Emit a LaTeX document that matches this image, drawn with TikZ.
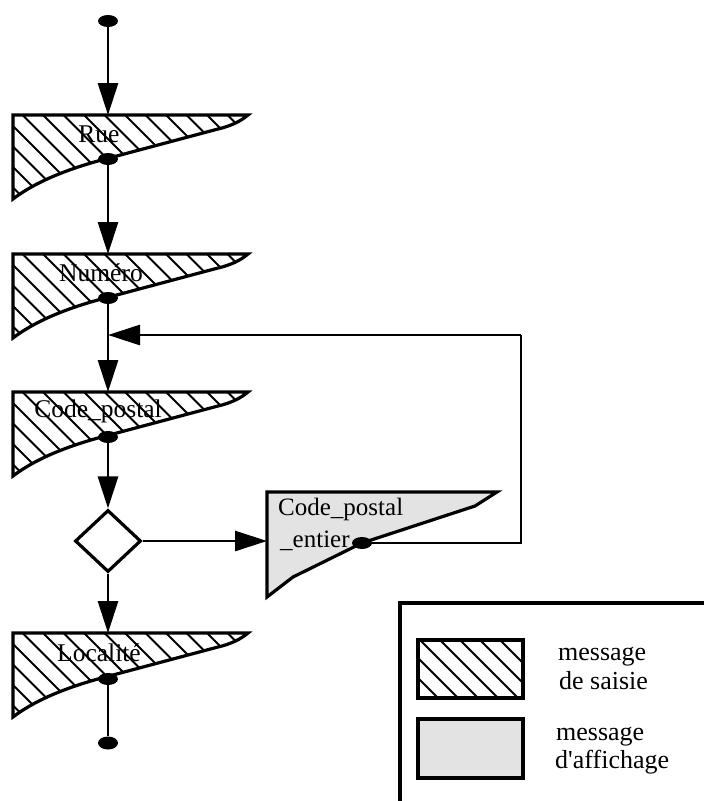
\documentclass[tikz,border=0pt]{standalone}
\usepackage{fontspec}
\setmainfont{Liberation Serif}[Ligatures=TeXOff]
\usetikzlibrary{arrows.meta,shapes.geometric}
\begin{document}
\begin{tikzpicture}[x=1pt,y=-1pt,
  conn/.style={line width=2.8pt},
  arr/.style={conn,-{Triangle[length=32pt,width=20pt]}},
  border/.style={line width=3.2pt,line join=miter},
  hatch/.style={line width=2.1pt},
  stipple/.style={fill=black!11},
  dot/.style={ellipse,fill=black,inner sep=0pt,minimum width=20pt,minimum height=12pt},
  lbl/.style={anchor=base,inner sep=0pt,font=\fontsize{25.5}{30}\selectfont},
  cpetxt/.style={anchor=base west,inner sep=0pt,font=\fontsize{25}{30}\selectfont},
  legtxt/.style={anchor=base west,inner sep=0pt,font=\fontsize{26}{30}\selectfont},
  saisie/.pic={
    \begin{scope}
      \clip (0,0) -- (235,0) .. controls (228,6) and (218,11) .. (205,14)
        -- (100,42) .. controls (60,52) and (25,65) .. (0,84) -- cycle;
      \foreach \c in {-93,-72.5,...,250}
        \draw[hatch] (\c-10,-10) -- (\c+100,100);
    \end{scope}
    \draw[border] (0,0) -- (235,0) .. controls (228,6) and (218,11) .. (205,14)
      -- (100,42) .. controls (60,52) and (25,65) .. (0,84) -- cycle;
  }
]
\useasboundingbox (0,0) rectangle (704,801);

% input messages
\pic at (13,115) {saisie};
\pic at (13,254) {saisie};
\pic at (13,392) {saisie};
\pic at (13,633) {saisie};

\node[lbl] (rue) at (99,142) {Rue};
\node[lbl] (numero) at (101,281) {Numéro};
\node[lbl] (cp) at (98,417) {Code\_postal};
\node[lbl] (localite) at (99,661) {Localité};

% entry points on the top edges
\coordinate (rue-in) at (108,115);
\coordinate (numero-in) at (108,254);
\coordinate (cp-in) at (108,392);
\coordinate (localite-in) at (108,633);

% exit dots
\node[dot] (start) at (108,21) {};
\node[dot] (rue-out) at (108,159) {};
\node[dot] (numero-out) at (108,298) {};
\node[dot] (cp-out) at (108,437) {};
\node[dot] (localite-out) at (108,679) {};
\node[dot,minimum height=13pt] (end) at (108,743) {};

% test
\node[diamond,draw,line width=3.2pt,minimum width=66pt,minimum height=62pt,inner sep=0pt] (test) at (108,541) {};

% display message
\fill[stipple] (267,492) -- (497,492) -- (475,506) -- (362,543) -- (293,577) -- (267,597) -- cycle;
\draw[border] (267,492) -- (497,492) -- (475,506) -- (362,543) -- (293,577) -- (267,597) -- cycle;
\coordinate (cpe-in) at (267,541);
\node[cpetxt] (cpe-a) at (278,515) {Code\_postal};
\node[cpetxt] (cpe-b) at (280,547) {\_entier};
\node[dot] (cpe-out) at (362,543) {};

% connectors
\draw[arr] (start) -- (rue-in);
\draw[arr] (rue-out) -- (numero-in);
\draw[arr] (numero-out) -- (cp-in);
\draw[arr] (cp-out) -- (test.north);
\draw[arr] (test.east) -- (cpe-in);
\draw[arr] (test.south) -- (localite-in);
\draw[conn] (localite-out) -- (end);

% loop back
\coordinate (join) at (108,335);
\coordinate (fb1) at (521,543);
\coordinate (fb2) at (521,335);
\draw[conn,line join=miter] (cpe-out) -- (fb1) -- (fb2);
\draw[arr] (fb2) -- (join);

% legend
\draw[border] (400,801) -- (400,603) -- (704,603);
\begin{scope}
  \clip (418,640) rectangle (523,698);
  \foreach \c in {330,350,...,530}
    \draw[hatch] (\c,630) -- (\c+80,710);
\end{scope}
\draw[border] (418,640) rectangle (523,698);
\fill[stipple] (418,719) rectangle (523,778);
\draw[border] (418,719) rectangle (523,778);
\node[legtxt] (leg1a) at (558,660) {message};
\node[legtxt] (leg1b) at (559,689) {de saisie};
\node[legtxt] (leg2a) at (556,740) {message};
\node[legtxt] (leg2b) at (555,768) {d'affichage};
\end{tikzpicture}
\end{document}
